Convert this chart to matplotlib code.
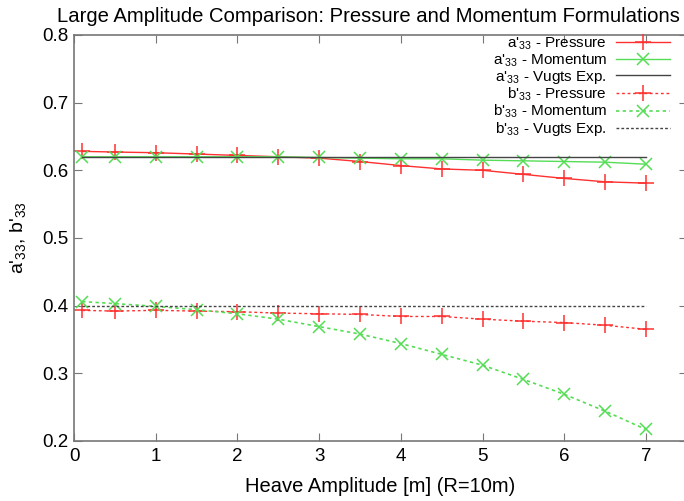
import numpy as np
import matplotlib
matplotlib.use("Agg")
import matplotlib.pyplot as plt

plt.rcParams['font.family'] = ['Liberation Sans', 'DejaVu Sans']
plt.rcParams['mathtext.fontset'] = 'custom'
plt.rcParams['mathtext.rm'] = 'Liberation Sans'
plt.rcParams['mathtext.it'] = 'Liberation Sans'

# heave amplitude [m]
amp = [0.1, 0.5, 1.0, 1.5, 2.0, 2.5, 3.0, 3.5, 4.0, 4.5, 5.0, 5.5, 6.0, 6.5, 7.0]

a33_pressure = [0.628, 0.627, 0.626, 0.624, 0.622, 0.620, 0.618, 0.613,
                0.607, 0.602, 0.600, 0.594, 0.588, 0.583, 0.581]
a33_momentum = [0.620, 0.620, 0.620, 0.620, 0.620, 0.620, 0.619, 0.618,
                0.617, 0.617, 0.615, 0.614, 0.613, 0.612, 0.609]
a33_vugts = [0.62] * len(amp)

b33_pressure = [0.393, 0.392, 0.393, 0.392, 0.391, 0.389, 0.388, 0.387,
                0.384, 0.384, 0.380, 0.377, 0.375, 0.371, 0.365]
b33_momentum = [0.406, 0.403, 0.399, 0.394, 0.388, 0.380, 0.369, 0.358,
                0.344, 0.328, 0.312, 0.291, 0.269, 0.244, 0.217]
b33_vugts = [0.40] * len(amp)

red = '#ff3030'
green = '#55dd55'

fig = plt.figure(figsize=(6.84, 5.01), dpi=100)
ax = fig.add_axes([0.1082, 0.1198, 0.896, 0.8104])

ax.plot(amp, a33_pressure, color=red, lw=1, marker='+', ms=12, mew=1.1,
        label="a'$_{33}$ - Pressure")
ax.plot(amp, a33_momentum, color=green, lw=1, marker='x', ms=9, mew=1.1,
        label="a'$_{33}$ - Momentum")
ax.plot(amp, a33_vugts, color='#444444', lw=1, label="a'$_{33}$ - Vugts Exp.")
ax.plot(amp, b33_pressure, color=red, lw=1, ls=(0, (2, 2)), marker='+', ms=12, mew=1.1,
        label="b'$_{33}$ - Pressure")
ax.plot(amp, b33_momentum, color=green, lw=1.2, ls=(0, (2, 2)), marker='x', ms=9, mew=1.1,
        label="b'$_{33}$ - Momentum")
ax.plot(amp, b33_vugts, color='#444444', lw=1, ls=(0, (2, 1.5)),
        label="b'$_{33}$ - Vugts Exp.")

ax.set_xlim(0, 7.5)
ax.set_ylim(0.2, 0.8)
ax.set_xticks(range(0, 8))
ax.set_yticks(np.arange(0.2, 0.81, 0.1))
ax.set_yticklabels(['0.2', '0.3', '0.4', '0.5', '0.6', '0.7', '0.8'])
ax.tick_params(direction='in', top=True, right=True, length=6, color='#777777',
               labelsize=13.5, pad=5)
ax.tick_params(axis='y', pad=4)
for s in ax.spines.values():
    s.set_color('#777777')
    s.set_linewidth(1.2)

ax.set_xlabel('Heave Amplitude [m] (R=10m)', fontsize=14.5, labelpad=9)
ax.set_ylabel("a'$_{33}$, b'$_{33}$", fontsize=14, labelpad=10)
fig.text(0.538, 0.968, 'Large Amplitude Comparison: Pressure and Momentum Formulations',
         ha='center', va='center', fontsize=14.6)

leg = ax.legend(loc='upper right', bbox_to_anchor=(0.972, 0.998), frameon=False,
                markerfirst=False, fontsize=11, handlelength=3.5, labelspacing=0.0,
                handletextpad=0.6, borderpad=0, borderaxespad=0)
for t in leg.get_texts():
    t.set_ha('right')

fig.savefig('out.png', dpi=100)
